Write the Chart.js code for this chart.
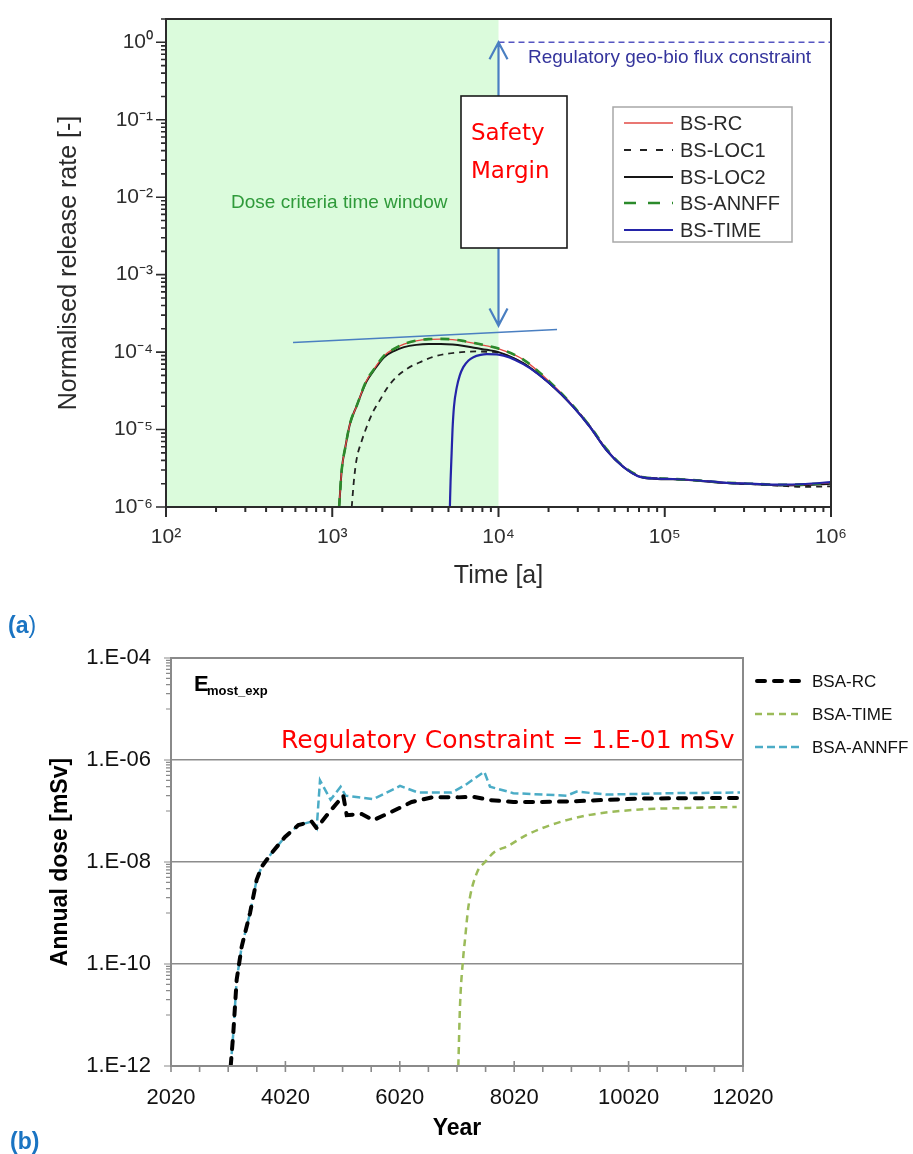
<!DOCTYPE html>
<html><head><meta charset="utf-8">
<script src="https://cdn.jsdelivr.net/npm/chart.js@4.4.1/dist/chart.umd.min.js"></script>
<style>
html,body{margin:0;padding:0;background:#fff;width:913px;height:1154px;overflow:hidden;}
#ca{position:absolute;left:0;top:0;}
#cb{position:absolute;left:0;top:600px;}
.lab{position:absolute;font-family:"Liberation Sans",Arial,sans-serif;font-weight:bold;color:#1a74c2;font-size:23px;}
</style></head><body>
<canvas id="ca" width="913" height="600"></canvas>
<canvas id="cb" width="913" height="554"></canvas>
<div class="lab" style="left:8px;top:612px">(a<span style="font-weight:normal">)</span></div>
<div class="lab" style="left:10px;top:1128px">(b)</div>
<script>
// ================= DATA: chart (a) =================
const aTimeTicks = [1e2, 1e3, 1e4, 1e5, 1e6];
const aTimeLabels = ['10²', '10³', '10⁴', '10⁵', '10⁶'];
const aRateTicks = [1e-6, 1e-5, 1e-4, 1e-3, 1e-2, 1e-1, 1];
const aRateLabels = ['10⁻⁶', '10⁻⁵', '10⁻⁴', '10⁻³', '10⁻²', '10⁻¹', '10⁰'];

const rcTime = [1100,1140,1200,1280,1400,1600,1800,2050,2350,2700,3200,3800,4500,5300,6200,7300,8500,10000,14100,20400,28200,35500,44700,56300,71000,90000,112000,160000,225000,330000,493000,700000,1000000];
const rcRate = [1e-6,3.0e-6,6.0e-6,1.2e-5,2.0e-5,4.2e-5,6.2e-5,9.0e-5,1.1e-4,1.27e-4,1.4e-4,1.46e-4,1.47e-4,1.45e-4,1.38e-4,1.29e-4,1.2e-4,1.1e-4,8.0e-5,4.1e-5,2.0e-5,1.08e-5,5.5e-6,3.3e-6,2.45e-6,2.33e-6,2.3e-6,2.2e-6,2.06e-6,2.0e-6,1.93e-6,1.95e-6,2.05e-6];

const loc1Time = [1310,1350,1400,1500,1610,1760,1935,2150,2440,2850,3370,4000,4880,6000,7390,8500,10000,14100,20400,28200,35500,44700,56300,71000,90000,112000,160000,225000,330000,493000,700000,1000000];
const loc1Rate = [1e-6,2.2e-6,4.1e-6,7.0e-6,1.08e-5,1.7e-5,2.4e-5,3.5e-5,4.8e-5,6.2e-5,7.4e-5,8.6e-5,9.5e-5,1.0e-4,1.02e-4,1.01e-4,9.8e-5,7.1e-5,3.9e-5,2.0e-5,1.1e-5,5.5e-6,3.3e-6,2.5e-6,2.35e-6,2.3e-6,2.2e-6,2.05e-6,1.97e-6,1.88e-6,1.82e-6,1.85e-6];

const loc2Time = [1100,1140,1200,1280,1400,1600,1800,2050,2350,2700,3200,3800,4500,5300,6200,7300,8500,10000,14100,20400,28200,35500,44700,56300,71000,90000,112000,160000,225000,330000,493000,700000,1000000];
const loc2Rate = [1e-6,3.0e-6,6.0e-6,1.2e-5,2.0e-5,4.1e-5,6.0e-5,8.6e-5,1.03e-4,1.16e-4,1.24e-4,1.27e-4,1.27e-4,1.25e-4,1.2e-4,1.13e-4,1.07e-4,1.0e-4,7.2e-5,3.9e-5,1.96e-5,1.08e-5,5.4e-6,3.3e-6,2.45e-6,2.3e-6,2.28e-6,2.18e-6,2.05e-6,1.98e-6,1.9e-6,1.92e-6,2.0e-6];

const annffTime = [1100,1140,1200,1280,1400,1600,1800,2050,2350,2700,3200,3800,4500,5300,6200,7300,8500,10000,14100,20400,28200,35500,44700,56300,71000,90000,112000,160000,225000,330000,493000,700000,1000000];
const annffRate = [1e-6,3.0e-6,6.0e-6,1.2e-5,2.0e-5,4.2e-5,6.2e-5,9.0e-5,1.1e-4,1.27e-4,1.41e-4,1.47e-4,1.48e-4,1.46e-4,1.39e-4,1.3e-4,1.21e-4,1.11e-4,8.0e-5,4.1e-5,2.0e-5,1.1e-5,5.6e-6,3.35e-6,2.5e-6,2.35e-6,2.3e-6,2.2e-6,2.07e-6,2.0e-6,1.94e-6,1.96e-6,2.05e-6];

const timeTime = [5100,5150,5225,5290,5400,5610,5850,6140,6600,7060,7800,8500,10000,14100,20400,28200,35500,44700,56300,71000,90000,112000,160000,225000,330000,493000,700000,1000000];
const timeRate = [1e-6,2.2e-6,5e-6,1.0e-5,2.0e-5,3.5e-5,5.0e-5,6.4e-5,7.8e-5,8.6e-5,9.2e-5,9.4e-5,9.3e-5,7.0e-5,3.9e-5,1.96e-5,1.08e-5,5.4e-6,3.3e-6,2.45e-6,2.33e-6,2.3e-6,2.2e-6,2.07e-6,2.0e-6,1.94e-6,1.98e-6,2.1e-6];

const trendTime = [581, 22500];
const trendRate = [1.33e-4, 1.96e-4];
const limitTime = [1e4, 1e6];
const limitRate = [1, 1];
const marginTime = 1e4;
const marginRate = [1, 2.2e-4];
const windowTime = [1e2, 1e4];

// ================= DATA: chart (b) =================
const bYearTicks = [2020, 4020, 6020, 8020, 10020, 12020];
const bYearLabels = ['2020', '4020', '6020', '8020', '10020', '12020'];
const bDoseTicks = [1e-12, 1e-10, 1e-8, 1e-6, 1e-4];
const bDoseLabels = ['1.E-12', '1.E-10', '1.E-08', '1.E-06', '1.E-04'];

const bsaRcYear = [3064,3109,3168,3256,3401,3518,3606,3780,4013,4246,4480,4567,4770,5032,5092,5354,5557,5878,6228,6578,7043,7305,7597,8004,8500,9053,9600,10220,11000,11968];
const bsaRcDose = [1e-12,4.4e-12,4.9e-11,2.2e-10,9.9e-10,4.5e-9,8.1e-9,1.5e-8,3.1e-8,5.3e-8,6.2e-8,4.6e-8,9.0e-8,2.0e-7,8.3e-8,8.7e-8,6.6e-8,9.7e-8,1.5e-7,1.85e-7,1.85e-7,1.9e-7,1.64e-7,1.5e-7,1.5e-7,1.55e-7,1.65e-7,1.75e-7,1.78e-7,1.8e-7];

const bsaTimeYear = [7043,7072,7130,7160,7218,7364,7510,7684,7889,8239,8763,9345,10220,11094,11910];
const bsaTimeDose = [1e-12,1.45e-11,1.4e-10,3e-10,1.3e-9,6.0e-9,1.0e-8,1.6e-8,2.0e-8,3.4e-8,5.8e-8,8.4e-8,1.07e-7,1.15e-7,1.2e-7];

const bsaAnnffYear = [3064,3109,3168,3256,3401,3518,3606,3780,4013,4246,4480,4567,4625,4810,4985,5072,5557,6023,6343,6927,7160,7497,7597,8004,8938,9113,9637,10802,11968];
const bsaAnnffDose = [1e-12,4.4e-12,4.9e-11,2.2e-10,9.9e-10,4.5e-9,8.1e-9,1.5e-8,3.1e-8,5.3e-8,6.2e-8,4.6e-8,4.0e-7,1.66e-7,3.0e-7,2.0e-7,1.7e-7,3.1e-7,2.3e-7,2.3e-7,3.2e-7,5.9e-7,3.0e-7,2.24e-7,2.0e-7,2.4e-7,2.1e-7,2.24e-7,2.3e-7];

// ================= helpers =================
const FONT = '"Liberation Sans", Arial, sans-serif';
Chart.defaults.font.family = FONT;
const pts = (xs, ys) => xs.map((x, i) => ({x: x, y: ys[i]}));
const isSame = (a, b) => Math.abs(Math.log10(a) - Math.log10(b)) < 1e-6;
function logMinorTicks(majors, maxV, mults) {
  const out = [];
  majors.forEach(m => mults.forEach(k => { const v = m * k; if (v <= maxV * 1.0000001) out.push(v); }));
  return out.sort((a, b) => a - b).map(v => ({value: v}));
}
function drawTicks(chart, id, o) {
  const s = chart.scales[id], ctx = chart.ctx, ca = chart.chartArea;
  ctx.save(); ctx.strokeStyle = o.color; ctx.lineWidth = o.width; ctx.beginPath();
  s.ticks.forEach(t => {
    const p = s.getPixelForValue(t.value);
    const major = t.label !== '' && t.label !== undefined;
    const a = major ? o.majA : o.minA, b = major ? o.majB : o.minB;
    if (s.isHorizontal()) { ctx.moveTo(p, ca.bottom - a); ctx.lineTo(p, ca.bottom + b); }
    else { ctx.moveTo(ca.left - b, p); ctx.lineTo(ca.left + a, p); }
  });
  ctx.stroke(); ctx.restore();
}

// ================= chart (a) =================
const pluginA = {
  id: 'pluginA',
  beforeDatasetsDraw(chart) {
    const {ctx, chartArea: ca, scales: {x}} = chart;
    ctx.save();
    ctx.fillStyle = '#dbfbdc';
    const x0 = x.getPixelForValue(windowTime[0]), x1 = x.getPixelForValue(windowTime[1]);
    ctx.fillRect(x0, ca.top, x1 - x0, ca.bottom - ca.top);
    ctx.fillStyle = '#2f9a3a';
    ctx.font = '19px ' + FONT; ctx.textBaseline = 'middle';
    ctx.fillText('Dose criteria time window', 231, 203);
    ctx.restore();
  },
  afterDatasetsDraw(chart) {
    const {ctx, chartArea: ca, scales: {x, y}} = chart;
    ctx.save();
    ctx.strokeStyle = '#2b2b2b'; ctx.lineWidth = 2;
    ctx.strokeRect(ca.left, ca.top, ca.right - ca.left, ca.bottom - ca.top);
    drawTicks(chart, 'x', {color: '#2b2b2b', width: 2, majA: 0, majB: 10, minA: 0, minB: 5});
    drawTicks(chart, 'y', {color: '#2b2b2b', width: 1.6, majA: 0, majB: 10, minA: 0, minB: 5});
    ctx.fillStyle = '#34349c'; ctx.font = '19px ' + FONT; ctx.textBaseline = 'middle';
    ctx.fillText('Regulatory geo-bio flux constraint', 528, 58);
    const ax = x.getPixelForValue(marginTime);
    const ay0 = y.getPixelForValue(marginRate[0]), ay1 = y.getPixelForValue(marginRate[1]);
    ctx.strokeStyle = '#4a7fc1'; ctx.lineWidth = 2.2; ctx.beginPath();
    ctx.moveTo(ax, ay0); ctx.lineTo(ax, ay1);
    ctx.moveTo(ax - 9, ay0 + 17); ctx.lineTo(ax, ay0); ctx.lineTo(ax + 9, ay0 + 17);
    ctx.moveTo(ax - 9, ay1 - 17); ctx.lineTo(ax, ay1); ctx.lineTo(ax + 9, ay1 - 17);
    ctx.stroke();
    ctx.fillStyle = '#ffffff'; ctx.fillRect(461, 96, 106, 152);
    ctx.strokeStyle = '#1a1a1a'; ctx.lineWidth = 1.6; ctx.strokeRect(461, 96, 106, 152);
    ctx.fillStyle = '#ff0000'; ctx.font = '23px "DejaVu Sans", sans-serif'; ctx.textBaseline = 'alphabetic';
    ctx.fillText('Safety', 471, 140); ctx.fillText('Margin', 471, 178);
    ctx.fillStyle = '#ffffff'; ctx.fillRect(613, 107, 179, 135);
    ctx.strokeStyle = '#a8a8a8'; ctx.lineWidth = 1.5; ctx.strokeRect(613, 107, 179, 135);
    const rows = [123, 150, 177, 203, 230];
    const legDash = [[], [7, 9], [], [12, 12], []];
    let r = 0;
    chart.data.datasets.forEach(ds => {
      if (ds.noLegend) return;
      const yy = rows[r];
      ctx.strokeStyle = ds.borderColor; ctx.lineWidth = ds.borderWidth; ctx.setLineDash(legDash[r]);
      ctx.beginPath(); ctx.moveTo(624, yy); ctx.lineTo(673, yy); ctx.stroke(); ctx.setLineDash([]);
      ctx.fillStyle = '#2a2a2a'; ctx.font = '20px ' + FONT; ctx.textBaseline = 'middle';
      ctx.fillText(ds.label, 680, yy + 1);
      r++;
    });
    ctx.restore();
  }
};

new Chart(document.getElementById('ca'), {
  type: 'line',
  data: { datasets: [
    {label: 'BS-RC', data: pts(rcTime, rcRate), borderColor: '#e24a44', borderWidth: 1.3, order: 3},
    {label: 'BS-LOC1', data: pts(loc1Time, loc1Rate), borderColor: '#222222', borderWidth: 1.8, borderDash: [6, 5], order: 5},
    {label: 'BS-LOC2', data: pts(loc2Time, loc2Rate), borderColor: '#161616', borderWidth: 2, order: 4},
    {label: 'BS-ANNFF', data: pts(annffTime, annffRate), borderColor: '#2b8a2b', borderWidth: 2.6, borderDash: [9, 8], order: 2},
    {label: 'BS-TIME', data: pts(timeTime, timeRate), borderColor: '#2424a8', borderWidth: 2.2, order: 1},
    {label: 'trend', noLegend: true, data: pts(trendTime, trendRate), borderColor: '#4a7fc1', borderWidth: 1.6, order: 0, cubicInterpolationMode: 'default', tension: 0},
    {label: 'limit', noLegend: true, data: pts(limitTime, limitRate), borderColor: '#5555c2', borderWidth: 1.5, borderDash: [6, 4], order: 0, cubicInterpolationMode: 'default', tension: 0}
  ]},
  options: {
    responsive: false, animation: false, devicePixelRatio: 1,
    layout: {padding: {top: 19, right: 82, left: 0, bottom: 0}},
    plugins: {legend: {display: false}, tooltip: {enabled: false}},
    elements: {point: {radius: 0}, line: {cubicInterpolationMode: 'monotone', fill: false}},
    scales: {
      x: {
        type: 'logarithmic', min: 100, max: 1e6,
        afterBuildTicks: s => { s.ticks = logMinorTicks(aTimeTicks.slice(0, -1), 1e6, [1,2,3,4,5,6,7,8,9]).concat([{value: 1e6}]); },
        afterFit: s => { s.height = 93; s.paddingLeft = 0; s.paddingRight = 0; },
        ticks: {autoSkip: false, maxRotation: 0, padding: 18, color: '#2e2e2e', font: {size: 21},
          callback: v => { const i = aTimeTicks.findIndex(t => isSame(t, v)); return i >= 0 ? aTimeLabels[i] : ''; }},
        grid: {display: false, drawTicks: false}, border: {display: false},
        title: {display: true, text: 'Time [a]', color: '#2a2a2a', font: {size: 25}, padding: {bottom: 9, top: 0}}
      },
      y: {
        type: 'logarithmic', min: 1e-6, max: 2,
        afterBuildTicks: s => { s.ticks = logMinorTicks(aRateTicks, 2, [1,2,3,4,5,6,7,8,9]); },
        afterFit: s => { s.width = 166; s.paddingTop = 0; s.paddingBottom = 0; },
        ticks: {autoSkip: false, padding: 13, color: '#2e2e2e', font: {size: 21},
          callback: v => { const i = aRateTicks.findIndex(t => isSame(t, v)); return i >= 0 ? aRateLabels[i] : ''; }},
        grid: {display: false, drawTicks: false}, border: {display: false},
        title: {display: true, text: 'Normalised release rate [-]', color: '#2a2a2a', font: {size: 25}, padding: {top: 54, bottom: 0}}
      }
    }
  },
  plugins: [pluginA]
});

// ================= chart (b) =================
const pluginB = {
  id: 'pluginB',
  afterDatasetsDraw(chart) {
    const {ctx, chartArea: ca} = chart;
    ctx.save();
    ctx.strokeStyle = '#8a8a8a'; ctx.lineWidth = 2;
    ctx.strokeRect(ca.left, ca.top, ca.right - ca.left, ca.bottom - ca.top);
    drawTicks(chart, 'x', {color: '#8a8a8a', width: 1.6, majA: 5, majB: 6, minA: 0, minB: 6});
    drawTicks(chart, 'y', {color: '#8a8a8a', width: 1.2, majA: 0, majB: 7, minA: 0, minB: 5});
    ctx.fillStyle = '#000'; ctx.textBaseline = 'alphabetic';
    ctx.font = 'bold 22px ' + FONT; ctx.fillText('E', 194, 91);
    ctx.font = 'bold 13px ' + FONT; ctx.fillText('most_exp', 207, 95);
    ctx.fillStyle = '#ff0000'; ctx.font = '25px "DejaVu Sans", sans-serif';
    ctx.fillText('Regulatory Constraint = 1.E-01 mSv', 281, 148);
    ctx.restore();
  },
  afterDraw(chart) {
    const ctx = chart.ctx;
    ctx.save();
    const rows = [81, 114, 147];
    chart.data.datasets.forEach((ds, i) => {
      const yy = rows[i];
      const round = ds.borderCapStyle === 'round';
      ctx.strokeStyle = ds.borderColor; ctx.lineWidth = ds.borderWidth; ctx.lineCap = round ? 'round' : 'butt';
      ctx.setLineDash(ds.borderDash || []);
      ctx.beginPath(); ctx.moveTo(round ? 757 : 755, yy); ctx.lineTo(round ? 800 : 802, yy); ctx.stroke();
      ctx.setLineDash([]); ctx.lineCap = 'butt';
      ctx.fillStyle = '#111'; ctx.font = '17px ' + FONT; ctx.textBaseline = 'middle';
      ctx.fillText(ds.label, 812, yy + 1);
    });
    ctx.restore();
  }
};

new Chart(document.getElementById('cb'), {
  type: 'line',
  data: { datasets: [
    {label: 'BSA-RC', data: pts(bsaRcYear, bsaRcDose), borderColor: '#000000', borderWidth: 4, borderDash: [8, 9], borderCapStyle: 'round', order: 1},
    {label: 'BSA-TIME', data: pts(bsaTimeYear, bsaTimeDose), borderColor: '#9bbb59', borderWidth: 2.5, borderDash: [7, 5], order: 3, cubicInterpolationMode: 'monotone'},
    {label: 'BSA-ANNFF', data: pts(bsaAnnffYear, bsaAnnffDose), borderColor: '#4bacc6', borderWidth: 2.5, borderDash: [8, 4], order: 2}
  ]},
  options: {
    responsive: false, animation: false, devicePixelRatio: 1,
    layout: {padding: {top: 58, right: 170, left: 0, bottom: 0}},
    plugins: {legend: {display: false}, tooltip: {enabled: false}},
    elements: {point: {radius: 0}, line: {tension: 0, fill: false}},
    scales: {
      x: {
        type: 'linear', min: 2020, max: 12020,
        afterBuildTicks: s => {
          const t = [];
          bYearTicks.forEach((m, i) => { t.push({value: m}); if (i < bYearTicks.length - 1) { const st = (bYearTicks[i + 1] - m) / 4; [1, 2, 3].forEach(k => t.push({value: m + k * st})); } });
          s.ticks = t;
        },
        afterFit: s => { s.height = 88; },
        ticks: {autoSkip: false, maxRotation: 0, padding: 19, color: '#111', font: {size: 22},
          callback: v => { const i = bYearTicks.indexOf(v); return i >= 0 ? bYearLabels[i] : ''; }},
        grid: {display: false, drawTicks: false}, border: {display: false},
        title: {display: true, text: 'Year', color: '#000', font: {size: 23, weight: 'bold'}, padding: {bottom: 12, top: 0}}
      },
      y: {
        type: 'logarithmic', min: 1e-12, max: 1e-4,
        afterBuildTicks: s => {
          const t = bDoseTicks.map(v => ({value: v}));
          bDoseTicks.slice(0, -1).forEach(m => [1,2,3,4,5,6,7,8,9].forEach(k => t.push({value: m * 10 * k})));
          s.ticks = t.sort((a, b) => a.value - b.value);
        },
        afterFit: s => { s.width = 171; },
        ticks: {autoSkip: false, padding: 20, color: '#111', font: {size: 22},
          callback: v => { const i = bDoseTicks.findIndex(t => isSame(t, v)); return i >= 0 ? bDoseLabels[i] : ''; }},
        grid: {display: true, drawTicks: false, lineWidth: 1.5,
          color: c => (c.tick && c.tick.label) ? '#8c8c8c' : 'rgba(0,0,0,0)'},
        border: {display: false},
        title: {display: true, text: 'Annual dose [mSv]', color: '#000', font: {size: 23, weight: 'bold'}, padding: {top: 47, bottom: 0}}
      }
    }
  },
  plugins: [pluginB]
});
</script>
</body></html>
